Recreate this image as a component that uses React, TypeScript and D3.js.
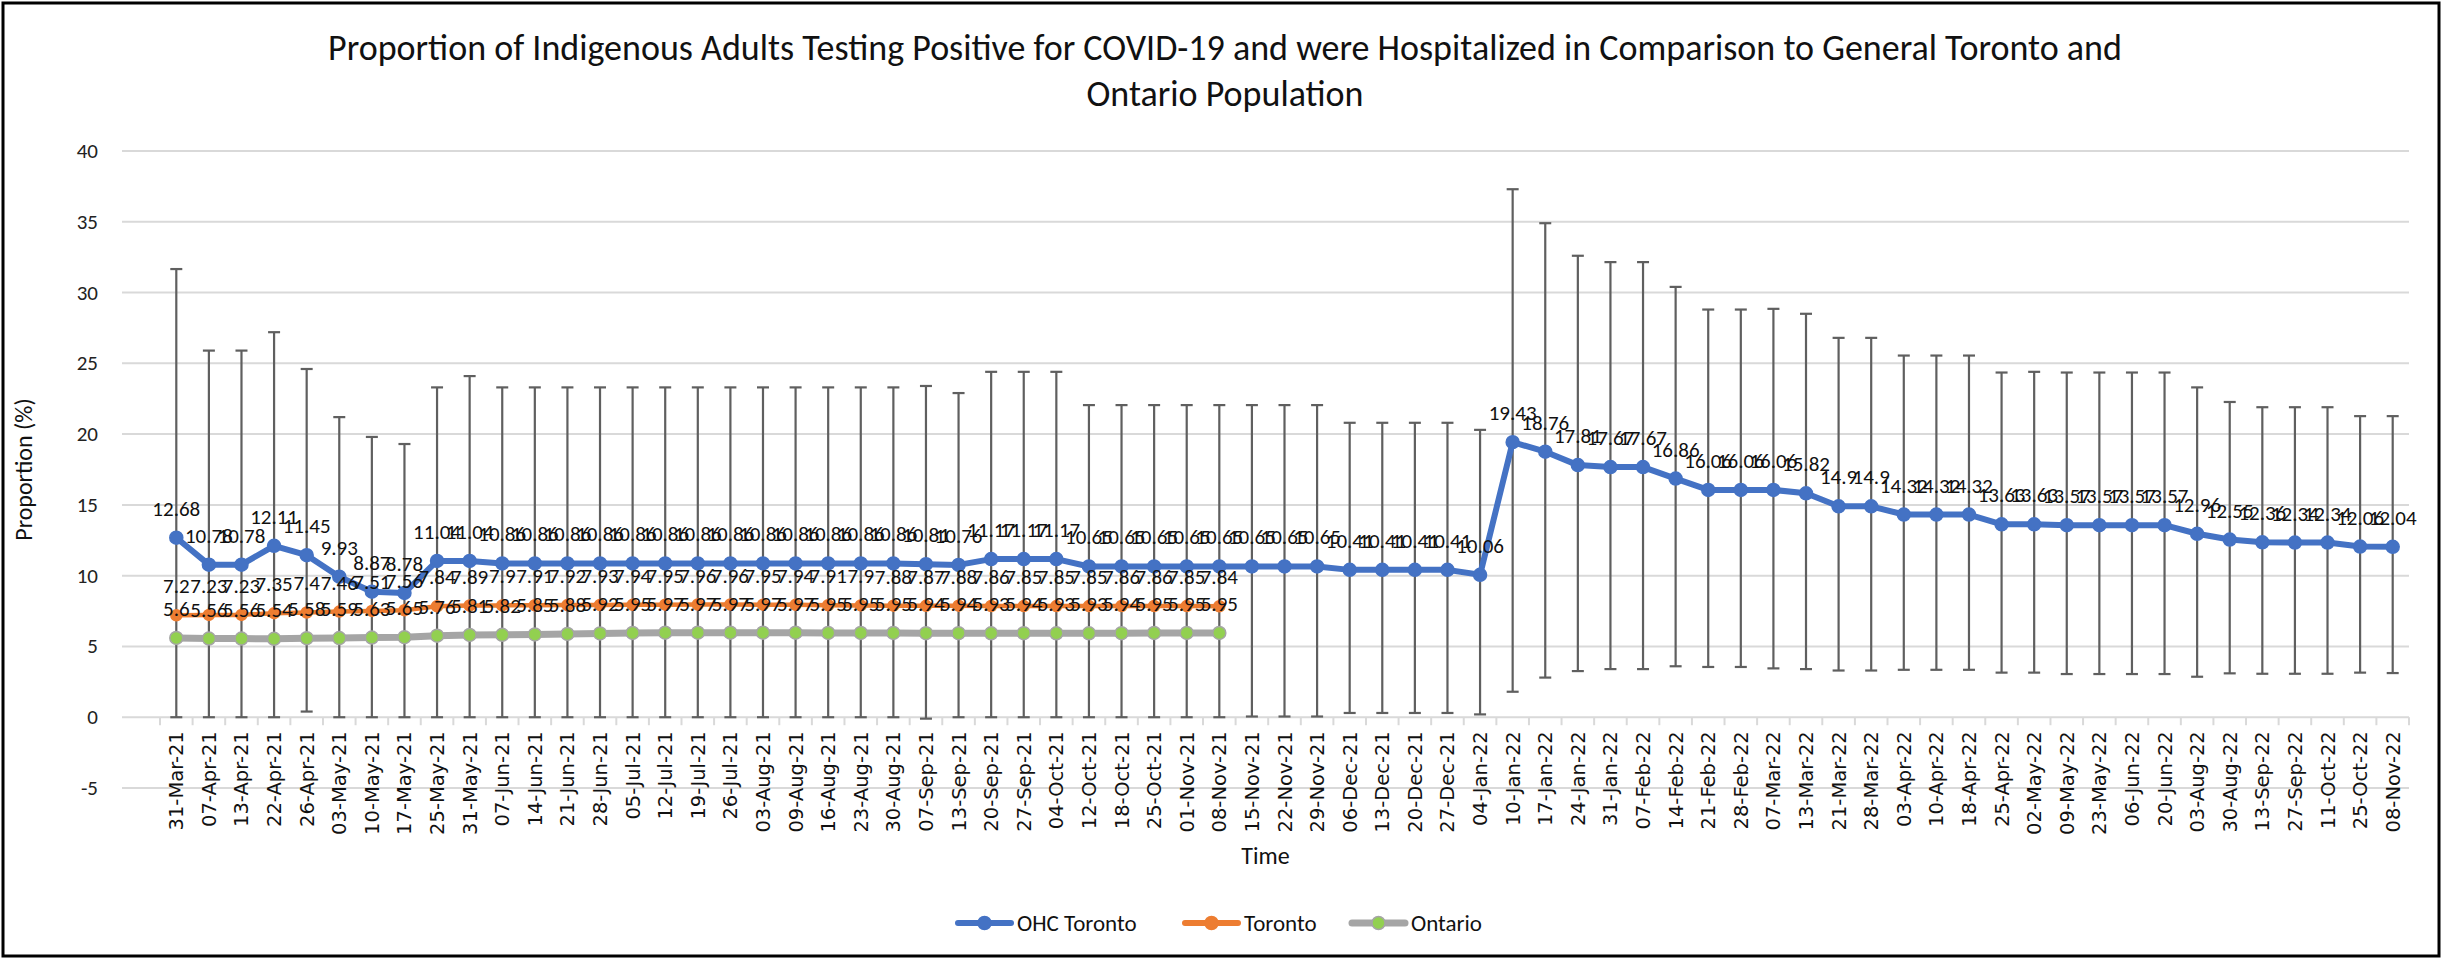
import React from 'react';
import * as d3 from 'd3';

const categories = [
  '31-Mar-21', '07-Apr-21', '13-Apr-21', '22-Apr-21', '26-Apr-21', '03-May-21', '10-May-21', '17-May-21',
  '25-May-21', '31-May-21', '07-Jun-21', '14-Jun-21', '21-Jun-21', '28-Jun-21', '05-Jul-21', '12-Jul-21',
  '19-Jul-21', '26-Jul-21', '03-Aug-21', '09-Aug-21', '16-Aug-21', '23-Aug-21', '30-Aug-21', '07-Sep-21',
  '13-Sep-21', '20-Sep-21', '27-Sep-21', '04-Oct-21', '12-Oct-21', '18-Oct-21', '25-Oct-21', '01-Nov-21',
  '08-Nov-21', '15-Nov-21', '22-Nov-21', '29-Nov-21', '06-Dec-21', '13-Dec-21', '20-Dec-21', '27-Dec-21',
  '04-Jan-22', '10-Jan-22', '17-Jan-22', '24-Jan-22', '31-Jan-22', '07-Feb-22', '14-Feb-22', '21-Feb-22',
  '28-Feb-22', '07-Mar-22', '13-Mar-22', '21-Mar-22', '28-Mar-22', '03-Apr-22', '10-Apr-22', '18-Apr-22',
  '25-Apr-22', '02-May-22', '09-May-22', '23-May-22', '06-Jun-22', '20-Jun-22', '03-Aug-22', '30-Aug-22',
  '13-Sep-22', '27-Sep-22', '11-Oct-22', '25-Oct-22', '08-Nov-22',
];

// OHC Toronto (with error bars)
const ohcToronto = [
  12.68, 10.78, 10.78, 12.11, 11.45, 9.93, 8.87, 8.78, 11.04, 11.04,
  10.86, 10.86, 10.86, 10.86, 10.86, 10.86, 10.86, 10.86, 10.86, 10.86, 10.86, 10.86, 10.86,
  10.81, 10.76, 11.17, 11.17, 11.17,
  10.65, 10.65, 10.65, 10.65, 10.65, 10.65, 10.65, 10.65,
  10.41, 10.41, 10.41, 10.41, 10.06,
  19.43, 18.76, 17.81, 17.67, 17.67, 16.86, 16.06, 16.06, 16.06, 15.82,
  14.9, 14.9, 14.32, 14.32, 14.32, 13.63, 13.63, 13.57, 13.57, 13.57, 13.57,
  12.96, 12.55, 12.36, 12.34, 12.34, 12.06, 12.04,
];

const ohcUpper = [
  31.66, 25.9, 25.9, 27.2, 24.6, 21.2, 19.8, 19.3, 23.3, 24.1,
  23.3, 23.3, 23.3, 23.3, 23.3, 23.3, 23.3, 23.3, 23.3, 23.3, 23.3, 23.3, 23.3,
  23.4, 22.9, 24.4, 24.4, 24.4,
  22.05, 22.05, 22.05, 22.05, 22.05, 22.05, 22.05, 22.05,
  20.8, 20.8, 20.8, 20.8, 20.3,
  37.3, 34.9, 32.6, 32.15, 32.15, 30.4, 28.8, 28.8, 28.85, 28.5,
  26.8, 26.8, 25.55, 25.55, 25.55, 24.35, 24.4, 24.35, 24.35, 24.35, 24.35,
  23.3, 22.27, 21.9, 21.9, 21.9, 21.27, 21.27,
];

const ohcLower = [
  0, 0, 0, 0, 0.4, 0, 0, 0, 0, 0,
  0, 0, 0, 0, 0, 0, 0, 0, 0, 0, 0, 0, 0,
  -0.1, 0, 0, 0, 0,
  0, 0, 0, 0, 0, 0.05, 0.05, 0.05,
  0.3, 0.3, 0.3, 0.3, 0.2,
  1.8, 2.8, 3.26, 3.4, 3.4, 3.6, 3.55, 3.55, 3.45, 3.4,
  3.3, 3.3, 3.35, 3.35, 3.35, 3.15, 3.15, 3.05, 3.05, 3.05, 3.05,
  2.86, 3.1, 3.07, 3.07, 3.07, 3.15, 3.12,
];

const toronto = [
  7.2, 7.23, 7.23, 7.35, 7.4, 7.46, 7.51, 7.56, 7.84, 7.89,
  7.9, 7.91, 7.92, 7.93, 7.94, 7.95, 7.96, 7.96, 7.95, 7.94,
  7.91, 7.9, 7.88, 7.87, 7.88, 7.86, 7.85, 7.85, 7.85, 7.86,
  7.86, 7.85, 7.84,
];

const ontario = [
  5.6, 5.56, 5.56, 5.54, 5.58, 5.59, 5.63, 5.65, 5.76, 5.81,
  5.82, 5.85, 5.88, 5.92, 5.95, 5.97, 5.97, 5.97, 5.97, 5.97,
  5.95, 5.95, 5.95, 5.94, 5.94, 5.93, 5.94, 5.93, 5.93, 5.94,
  5.95, 5.95, 5.95,
];

const yTicks = [-5, 0, 5, 10, 15, 20, 25, 30, 35, 40];

const calibri = "Carlito, Calibri, Lato, sans-serif";

export default function App() {
  const width = 2447;
  const height = 961;

  const plotLeft = 122;
  const plotRight = 2409;

  const x = d3.scaleBand().domain(categories).range([160, plotRight]);
  const y = d3.scaleLinear().domain([-5, 40]).range([788, 151]);
  const cx = (i: number) => (x(categories[i]) ?? 0) + x.bandwidth() / 2;

  const line = d3.line<number>().x((_, i) => cx(i)).y(d => y(d));

  const series = [
    { name: 'Ontario', values: ontario, stroke: '#a5a5a5', lw: 7, fill: '#92d050', mstroke: '#a5a5a5', r: 6.5 },
    { name: 'Toronto', values: toronto, stroke: '#ed7d31', lw: 4.5, fill: '#ed7d31', mstroke: '#ed7d31', r: 5.5 },
    { name: 'OHC Toronto', values: ohcToronto, stroke: '#4472c4', lw: 6, fill: '#4472c4', mstroke: '#4472c4', r: 6.5 },
  ];

  const legend = [
    { name: 'OHC Toronto', x: 958, stroke: '#4472c4', fill: '#4472c4' },
    { name: 'Toronto', x: 1185, stroke: '#ed7d31', fill: '#ed7d31' },
    { name: 'Ontario', x: 1352, stroke: '#a5a5a5', fill: '#92d050' },
  ];

  const y0 = y(0);

  return (
    <div style={{ position: 'absolute', left: 0, top: 0 }}>
      <svg width={width} height={height} style={{ display: 'block', background: '#fff' }}>
        <rect x={3} y={3} width={2436} height={953} fill="#fff" stroke="#000" strokeWidth={3} />

        <text x={1225} y={60} textAnchor="middle" fontFamily={calibri} fontSize={36} fill="#111">
          Proportion of Indigenous Adults Testing Positive for COVID-19 and were Hospitalized in Comparison to General Toronto and
        </text>
        <text x={1225} y={106} textAnchor="middle" fontFamily={calibri} fontSize={36} fill="#111">
          Ontario Population
        </text>

        {/* gridlines */}
        {yTicks.map(t => (
          <line key={t} x1={plotLeft} x2={plotRight} y1={y(t)} y2={y(t)} stroke="#d9d9d9" strokeWidth={2} />
        ))}
        {yTicks.map(t => (
          <text key={'l' + t} x={98} y={y(t) + 7} textAnchor="end" fontFamily={calibri} fontSize={21} fill="#222">
            {t}
          </text>
        ))}

        {/* category tick marks */}
        {categories.map(c => (
          <line key={'tk' + c} x1={x(c) ?? 0} x2={x(c) ?? 0} y1={y0} y2={y0 + 8} stroke="#d9d9d9" strokeWidth={2} />
        ))}
        <line x1={plotRight} x2={plotRight} y1={y0} y2={y0 + 8} stroke="#d9d9d9" strokeWidth={2} />

        {categories.map((c, i) => (
          <text
            key={'xl' + c}
            transform={`translate(${cx(i) + 7},${y0 + 14}) rotate(-90)`}
            textAnchor="end"
            fontFamily="'DejaVu Sans', Verdana, sans-serif"
            fontSize={19.5}
            fill="#111"
          >
            {c}
          </text>
        ))}

        {/* error bars */}
        {ohcToronto.map((_, i) => (
          <g key={'eb' + i} stroke="#5f5f5f" strokeWidth={2.2}>
            <line x1={cx(i)} x2={cx(i)} y1={y(ohcUpper[i])} y2={y(ohcLower[i])} />
            <line x1={cx(i) - 6} x2={cx(i) + 6} y1={y(ohcUpper[i])} y2={y(ohcUpper[i])} />
            <line x1={cx(i) - 6} x2={cx(i) + 6} y1={y(ohcLower[i])} y2={y(ohcLower[i])} />
          </g>
        ))}

        {/* lines and markers */}
        {series.map(s => (
          <g key={s.name}>
            <path d={line(s.values) ?? ''} fill="none" stroke={s.stroke} strokeWidth={s.lw} strokeLinejoin="round" />
            {s.values.map((v, i) => (
              <circle key={i} cx={cx(i)} cy={y(v)} r={s.r} fill={s.fill} stroke={s.mstroke} strokeWidth={1.5} />
            ))}
          </g>
        ))}

        {/* data labels */}
        {series.map(s => (
          <g key={'dl' + s.name} fontFamily={calibri} fontSize={21} fill="#111" textAnchor="middle">
            {s.values.map((v, i) => (
              <text key={i} x={cx(i)} y={y(v) - 22}>{String(v)}</text>
            ))}
          </g>
        ))}

        {/* axis titles */}
        <text transform={`translate(32,${(151 + 788) / 2}) rotate(-90)`} textAnchor="middle" fontFamily={calibri} fontSize={24} fill="#111">
          Proportion (%)
        </text>
        <text x={(plotLeft + plotRight) / 2} y={864} textAnchor="middle" fontFamily={calibri} fontSize={24} fill="#111">
          Time
        </text>

        {/* legend */}
        {legend.map(l => (
          <g key={'lg' + l.name}>
            <line x1={l.x} x2={l.x + 53} y1={923} y2={923} stroke={l.stroke} strokeWidth={l.name === 'Ontario' ? 7 : 6} strokeLinecap="round" />
            <circle cx={l.x + 26.5} cy={923} r={6.5} fill={l.fill} stroke={l.stroke} strokeWidth={1.5} />
            <text x={l.x + 59} y={931} fontFamily={calibri} fontSize={23} fill="#111">{l.name}</text>
          </g>
        ))}
      </svg>
    </div>
  );
}
